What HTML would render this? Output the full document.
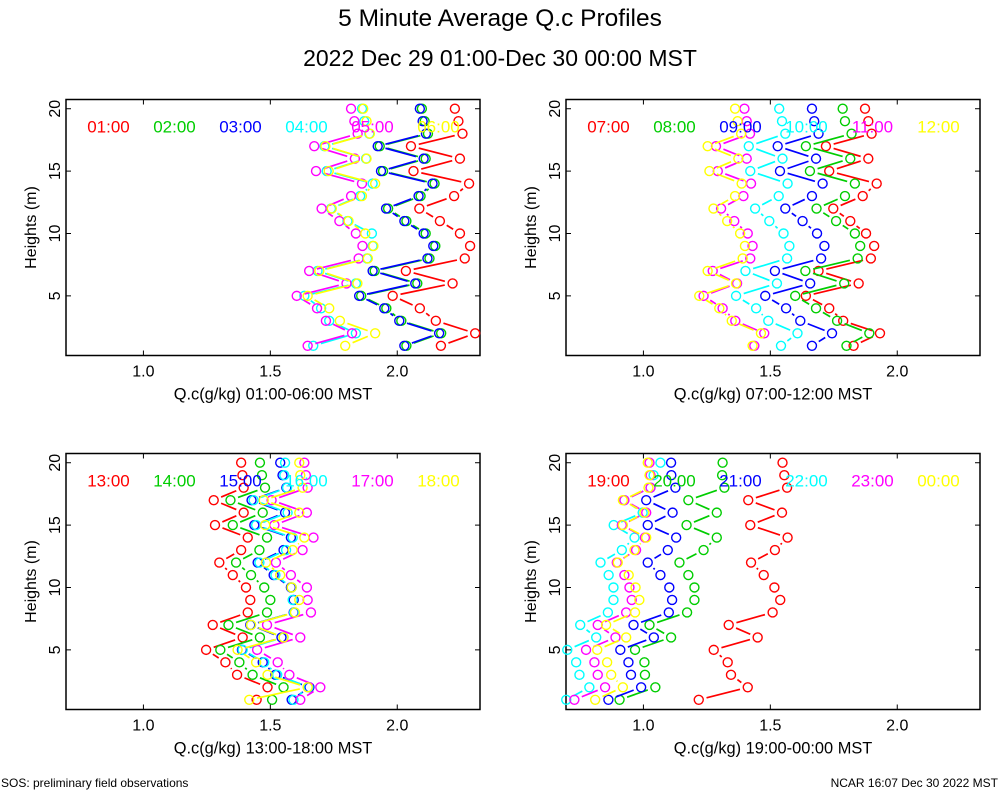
<!DOCTYPE html>
<html><head><meta charset="utf-8"><style>
body{margin:0;background:#fff;}
svg{display:block;font-family:"Liberation Sans",sans-serif;}
</style></head><body>
<svg id="chart" width="1000" height="800" viewBox="0 0 1000 800">
<rect width="1000" height="800" fill="#fff"/>
<text x="500" y="26" font-size="24.5" text-anchor="middle">5 Minute Average Q.c Profiles</text>
<text x="500" y="66" font-size="23" text-anchor="middle">2022 Dec 29 01:00-Dec 30 00:00 MST</text>
<text x="1" y="787" font-size="12">SOS: preliminary field observations</text>
<text x="998" y="787" font-size="12" text-anchor="end">NCAR 16:07 Dec 30 2022 MST</text>
</svg>
<script>
const heights=[20,19,18,17,16,15,14,13,12,11,10,9,8,7,6,5,4,3,2,1];
const xTicks=[1.0,1.5,2.0];
const yTicks=[5,10,15,20];
const colors=["#ff0000","#00cd00","#0000ff","#00ffff","#ff00ff","#ffff00"];
const panelTitles=["Q.c(g/kg) 01:00-06:00 MST","Q.c(g/kg) 07:00-12:00 MST","Q.c(g/kg) 13:00-18:00 MST","Q.c(g/kg) 19:00-00:00 MST"];
const panelLabels=[["01:00","02:00","03:00","04:00","05:00","06:00"],["07:00","08:00","09:00","10:00","11:00","12:00"],["13:00","14:00","15:00","16:00","17:00","18:00"],["19:00","20:00","21:00","22:00","23:00","00:00"]];
// Panel 1
const s0100=[2.227,2.241,2.257,2.054,2.247,2.064,2.283,2.224,2.087,2.168,2.247,2.287,2.266,2.034,2.218,1.982,2.089,2.152,2.307,2.172];
const s0200=[2.097,2.108,2.121,1.931,2.112,1.944,2.147,2.092,1.964,2.036,2.112,2.150,2.127,1.911,2.079,1.858,1.957,2.016,2.173,2.036];
const s0300=[2.089,2.100,2.113,1.923,2.104,1.936,2.139,2.084,1.956,2.028,2.104,2.142,2.119,1.903,2.071,1.850,1.949,2.008,2.165,2.028];
const s0400=[1.861,1.870,1.890,1.713,1.877,1.722,1.903,1.854,1.739,1.804,1.900,1.903,1.881,1.686,1.837,1.634,1.700,1.732,1.837,1.669];
const s0500=[1.818,1.831,1.844,1.673,1.833,1.680,1.861,1.818,1.702,1.772,1.837,1.863,1.848,1.653,1.800,1.604,1.684,1.719,1.822,1.647];
const s0600=[1.866,1.879,1.892,1.717,1.879,1.730,1.913,1.861,1.742,1.808,1.874,1.906,1.884,1.693,1.843,1.647,1.732,1.774,1.913,1.795];
// Panel 2
const s0700=[1.873,1.886,1.899,1.719,1.886,1.732,1.919,1.864,1.748,1.815,1.877,1.909,1.896,1.690,1.848,1.640,1.732,1.787,1.932,1.828];
const s0800=[1.785,1.794,1.820,1.640,1.815,1.656,1.833,1.794,1.682,1.759,1.833,1.854,1.844,1.638,1.791,1.598,1.680,1.763,1.890,1.800];
const s0900=[1.664,1.673,1.690,1.529,1.680,1.538,1.706,1.664,1.559,1.627,1.684,1.713,1.700,1.518,1.657,1.480,1.562,1.618,1.743,1.664];
const s1000=[1.535,1.546,1.559,1.415,1.548,1.421,1.568,1.533,1.440,1.496,1.552,1.575,1.566,1.402,1.526,1.365,1.444,1.492,1.607,1.542];
const s1100=[1.398,1.407,1.420,1.286,1.407,1.293,1.424,1.394,1.306,1.358,1.411,1.430,1.421,1.273,1.369,1.237,1.312,1.362,1.476,1.437];
const s1200=[1.361,1.371,1.385,1.253,1.374,1.260,1.387,1.361,1.276,1.330,1.381,1.400,1.391,1.253,1.365,1.220,1.299,1.348,1.463,1.430];
// Panel 3
const s1300=[1.385,1.390,1.395,1.277,1.395,1.282,1.411,1.385,1.299,1.352,1.404,1.421,1.411,1.273,1.391,1.247,1.323,1.369,1.489,1.446];
const s1400=[1.459,1.467,1.479,1.343,1.470,1.352,1.487,1.457,1.365,1.424,1.476,1.500,1.487,1.335,1.459,1.303,1.378,1.430,1.552,1.507];
const s1500=[1.539,1.548,1.563,1.426,1.558,1.437,1.581,1.552,1.450,1.513,1.581,1.592,1.592,1.421,1.544,1.388,1.470,1.520,1.654,1.584];
const s1600=[1.558,1.555,1.566,1.434,1.568,1.444,1.588,1.562,1.457,1.520,1.584,1.588,1.594,1.424,1.552,1.391,1.476,1.527,1.650,1.591];
const s1700=[1.634,1.640,1.647,1.505,1.644,1.516,1.670,1.627,1.522,1.581,1.644,1.647,1.660,1.487,1.618,1.448,1.529,1.575,1.697,1.618];
const s1800=[1.614,1.618,1.627,1.474,1.614,1.480,1.634,1.588,1.483,1.539,1.584,1.614,1.597,1.424,1.552,1.371,1.444,1.489,1.647,1.417];
// Panel 4
const s1900=[1.548,1.555,1.566,1.413,1.546,1.421,1.568,1.518,1.424,1.474,1.516,1.539,1.509,1.336,1.450,1.277,1.332,1.345,1.411,1.218];
const s2000=[1.312,1.310,1.319,1.177,1.289,1.170,1.289,1.237,1.142,1.177,1.201,1.201,1.172,1.024,1.109,0.967,1.004,1.006,1.047,0.906];
const s2100=[1.109,1.110,1.126,1.011,1.115,1.017,1.129,1.096,1.017,1.067,1.102,1.113,1.100,0.961,1.041,0.909,0.941,0.951,0.991,0.862];
const s2200=[1.067,1.040,1.028,0.925,0.997,0.883,0.965,0.915,0.831,0.863,0.882,0.882,0.860,0.751,0.814,0.700,0.735,0.748,0.787,0.696];
const s2300=[1.024,1.028,1.028,0.925,1.011,0.915,1.006,0.971,0.895,0.925,0.945,0.954,0.932,0.820,0.890,0.774,0.807,0.820,0.849,0.728];
const s0000=[1.017,1.024,1.020,0.919,1.004,0.919,1.011,0.965,0.899,0.942,0.969,0.984,0.967,0.853,0.932,0.818,0.857,0.873,0.919,0.810];

const panelSeries=[[s0100,s0200,s0300,s0400,s0500,s0600],[s0700,s0800,s0900,s1000,s1100,s1200],[s1300,s1400,s1500,s1600,s1700,s1800],[s1900,s2000,s2100,s2200,s2300,s0000]];
const NS="http://www.w3.org/2000/svg";
const svg=document.getElementById("chart");
function mk(tag,attrs,parent){const e=document.createElementNS(NS,tag);for(const k in attrs)e.setAttribute(k,attrs[k]);parent.appendChild(e);return e;}
const XMIN=0.695,XMAX=2.326,YMIN=0.22,YMAX=20.74;
const boxes=[[66,99.5,414,256],[566,99.5,414,256],[66,453.5,414,256],[566,453.5,414,256]];
boxes.forEach((b,p)=>{
  const [L,T,W,H]=b;
  const xs=v=>L+(v-XMIN)/(XMAX-XMIN)*W;
  const ys=v=>T+H-(v-YMIN)/(YMAX-YMIN)*H;
  const g=mk("g",{},svg);
  
  
  const fr=mk("rect",{x:L,y:T,width:W,height:H,fill:"none",stroke:"#000","stroke-width":1.5},g);
  
  
  xTicks.forEach(t=>{
    const x=xs(t);
    mk("line",{x1:x,x2:x,y1:T+H,y2:T+H-5,stroke:"#000"},g);
    mk("line",{x1:x,x2:x,y1:T,y2:T+5,stroke:"#000"},g);
    const tx=mk("text",{x:x,y:T+H+21,"font-size":16,"text-anchor":"middle"},g);
    tx.textContent=t.toFixed(1);
    
    
  });
  yTicks.forEach(t=>{
    const y=ys(t);
    mk("line",{x1:L,x2:L+5,y1:y,y2:y,stroke:"#000"},g);
    mk("line",{x1:L+W,x2:L+W-5,y1:y,y2:y,stroke:"#000"},g);
    const tx=mk("text",{x:0,y:0,"font-size":16,"text-anchor":"middle",transform:`translate(${L-6},${y}) rotate(-90)`},g);
    tx.textContent=String(t);
    
    
  });
  const yt=mk("text",{x:0,y:0,"font-size":16,"text-anchor":"middle",transform:`translate(${L-30},${T+H/2}) rotate(-90)`},g);
  yt.textContent="Heights (m)";
  
  
  const xt=mk("text",{x:L+W/2,y:T+H+44,"font-size":16.4,"text-anchor":"middle"},g);
  xt.textContent=panelTitles[p];
  
  
  panelSeries[p].forEach((ser,si)=>{
    const col=colors[si];
    const sg=mk("g",{},g);
    
    
    const pts=ser.map((v,i)=>[xs(v),ys(heights[i])]);
    const gap=8;
    for(let i=0;i<pts.length-1;i++){
      const [x1,y1]=pts[i],[x2,y2]=pts[i+1];
      const d=Math.hypot(x2-x1,y2-y1);
      if(d>2*gap+1){
        const ux=(x2-x1)/d,uy=(y2-y1)/d;
        const ln=mk("line",{x1:x1+ux*gap,y1:y1+uy*gap,x2:x2-ux*gap,y2:y2-uy*gap,stroke:col,"stroke-width":1.7},sg);
        
        
      }
    }
    pts.forEach(([x,y])=>{
      const c=mk("circle",{cx:x,cy:y,r:4.5,fill:"none",stroke:col,"stroke-width":1.4},sg);
      
      
    });
  });
  panelLabels[p].forEach((lab,i)=>{
    const t=mk("text",{x:L+42.5+i*66,y:T+33,"font-size":17,"text-anchor":"middle",fill:colors[i]},g);
    t.textContent=lab;
    
    
  });
});
</script>
</body></html>
